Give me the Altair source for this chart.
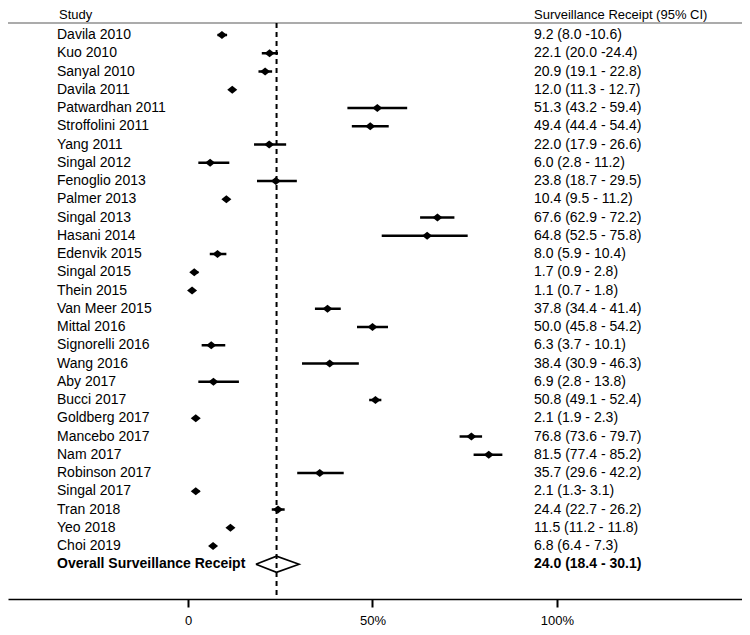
import altair as alt
import pandas as pd

studies = ["Davila 2010", "Kuo 2010", "Sanyal 2010", "Davila 2011", "Patwardhan 2011",
           "Stroffolini 2011", "Yang 2011", "Singal 2012", "Fenoglio 2013", "Palmer 2013",
           "Singal 2013", "Hasani 2014", "Edenvik 2015", "Singal 2015", "Thein 2015",
           "Van Meer 2015", "Mittal 2016", "Signorelli 2016", "Wang 2016", "Aby 2017",
           "Bucci 2017", "Goldberg 2017", "Mancebo 2017", "Nam 2017", "Robinson 2017",
           "Singal 2017", "Tran 2018", "Yeo 2018", "Choi 2019"]
estimate = [9.2, 22.1, 20.9, 12.0, 51.3, 49.4, 22.0, 6.0, 23.8, 10.4,
            67.6, 64.8, 8.0, 1.7, 1.1, 37.8, 50.0, 6.3, 38.4, 6.9,
            50.8, 2.1, 76.8, 81.5, 35.7, 2.1, 24.4, 11.5, 6.8]
lower = [8.0, 20.0, 19.1, 11.3, 43.2, 44.4, 17.9, 2.8, 18.7, 9.5,
         62.9, 52.5, 5.9, 0.9, 0.7, 34.4, 45.8, 3.7, 30.9, 2.8,
         49.1, 1.9, 73.6, 77.4, 29.6, 1.3, 22.7, 11.2, 6.4]
upper = [10.6, 24.4, 22.8, 12.7, 59.4, 54.4, 26.6, 11.2, 29.5, 11.2,
         72.2, 75.8, 10.4, 2.8, 1.8, 41.4, 54.2, 10.1, 46.3, 13.8,
         52.4, 2.3, 79.7, 85.2, 42.2, 3.1, 26.2, 11.8, 7.3]
ci_labels = ["9.2 (8.0 -10.6)", "22.1 (20.0 -24.4)", "20.9 (19.1 - 22.8)", "12.0 (11.3 - 12.7)",
             "51.3 (43.2 - 59.4)", "49.4 (44.4 - 54.4)", "22.0 (17.9 - 26.6)", "6.0 (2.8 - 11.2)",
             "23.8 (18.7 - 29.5)", "10.4 (9.5 - 11.2)", "67.6 (62.9 - 72.2)", "64.8 (52.5 - 75.8)",
             "8.0 (5.9 - 10.4)", "1.7 (0.9 - 2.8)", "1.1 (0.7 - 1.8)", "37.8 (34.4 - 41.4)",
             "50.0 (45.8 - 54.2)", "6.3 (3.7 - 10.1)", "38.4 (30.9 - 46.3)", "6.9 (2.8 - 13.8)",
             "50.8 (49.1 - 52.4)", "2.1 (1.9 - 2.3)", "76.8 (73.6 - 79.7)", "81.5 (77.4 - 85.2)",
             "35.7 (29.6 - 42.2)", "2.1 (1.3-  3.1)", "24.4 (22.7 - 26.2)", "11.5 (11.2 - 11.8)",
             "6.8 (6.4 - 7.3)"]

overall_label = "Overall Surveillance Receipt"
overall_est = 24.0
overall_lower = 18.4
overall_upper = 30.1
overall_ci_label = "24.0 (18.4 - 30.1)"

x_ticks = [0, 50, 100]
header_study = "Study"
header_ci = "Surveillance Receipt (95% CI)"

# ---- layout / style constants ----
W, H = 734, 591
FONT = "Liberation Sans"
DIAMOND_HALF = 0.44  # half height of the summary diamond, in row units

studies_df = pd.DataFrame({
    "study": studies, "est": estimate, "lo": lower, "hi": upper,
    "ci": ci_labels, "row": list(range(len(studies)))
})
overall_row = len(studies)
overall_df = pd.DataFrame({"study": [overall_label], "ci": [overall_ci_label],
                           "row": [overall_row]})
poly_df = pd.DataFrame({
    "x": [overall_lower, overall_est, overall_upper, overall_est, overall_lower],
    "row": [overall_row, overall_row - DIAMOND_HALF, overall_row,
            overall_row + DIAMOND_HALF, overall_row],
    "ord": [0, 1, 2, 3, 4]
})

xscale = alt.Scale(domain=[-48.78, 150.14], nice=False, zero=False)
yscale = alt.Scale(domain=[-1.4795, 30.904], reverse=True, nice=False, zero=False)
xaxis = alt.Axis(values=x_ticks, labelExpr="datum.value == 0 ? '0' : datum.value + '%'",
                 title=None, grid=False, domainColor="black", domainWidth=1.5,
                 tickColor="black", tickWidth=2, tickSize=8, labelPadding=7,
                 labelFontSize=13, labelFont=FONT, labelColor="black")
Y = alt.Y("row:Q", scale=yscale, axis=None)

ci_rules = alt.Chart(studies_df).mark_rule(color="black", strokeWidth=2.5).encode(
    x=alt.X("lo:Q", scale=xscale, axis=xaxis), x2="hi:Q", y=Y)

points = alt.Chart(studies_df).mark_point(
    shape="M-1,0L0,-0.8L1,0L0,0.8Z", size=100, filled=True, color="black", opacity=1
).encode(x=alt.X("est:Q", scale=xscale, axis=xaxis), y=Y)

diamond = alt.Chart(poly_df).mark_line(color="black", strokeWidth=1.6).encode(
    x=alt.X("x:Q", scale=xscale, axis=xaxis), y=Y, order="ord:Q")

dashed = alt.Chart(overall_df).mark_rule(color="black", strokeWidth=2,
                                         strokeDash=[5, 4]).encode(
    x=alt.datum(overall_est), y=alt.value(15), y2=alt.value(H))

study_text = alt.Chart(studies_df).mark_text(
    align="left", baseline="middle", font=FONT, fontSize=14, color="black"
).encode(x=alt.value(49), y=Y, text="study:N")

ci_text = alt.Chart(studies_df).mark_text(
    align="left", baseline="middle", font=FONT, fontSize=14, color="black"
).encode(x=alt.value(526), y=Y, text="ci:N")

overall_text = alt.Chart(overall_df).mark_text(
    align="left", baseline="middle", font=FONT, fontSize=14, fontWeight="bold", color="black"
).encode(x=alt.value(49), y=Y, text="study:N")

overall_ci_text = alt.Chart(overall_df).mark_text(
    align="left", baseline="middle", font=FONT, fontSize=14, fontWeight="bold", color="black"
).encode(x=alt.value(526), y=Y, text="ci:N")

hdr_df = pd.DataFrame({"label": [header_study, header_ci], "px": [51, 526]})
header_text = alt.Chart(hdr_df).mark_text(
    align="left", baseline="top", font=FONT, fontSize=13, color="black"
).encode(x=alt.X("px:Q", scale=None), y=alt.value(1), text="label:N")

header_line = alt.Chart(hdr_df).mark_rule(color="#a6a6a6", strokeWidth=1.5).encode(
    x=alt.value(0), x2=alt.value(W), y=alt.value(15))

chart = alt.layer(
    header_line, dashed, ci_rules, points, diamond,
    study_text, ci_text, overall_text, overall_ci_text, header_text
).properties(
    width=W, height=H, background="white",
    autosize=alt.AutoSizeParams(type="none"),
    padding={"left": 0, "top": 0, "right": 0, "bottom": 28}
).configure_view(strokeWidth=0, stroke=None)

chart.save("out.html", embed_options={"renderer": "svg", "actions": False})
